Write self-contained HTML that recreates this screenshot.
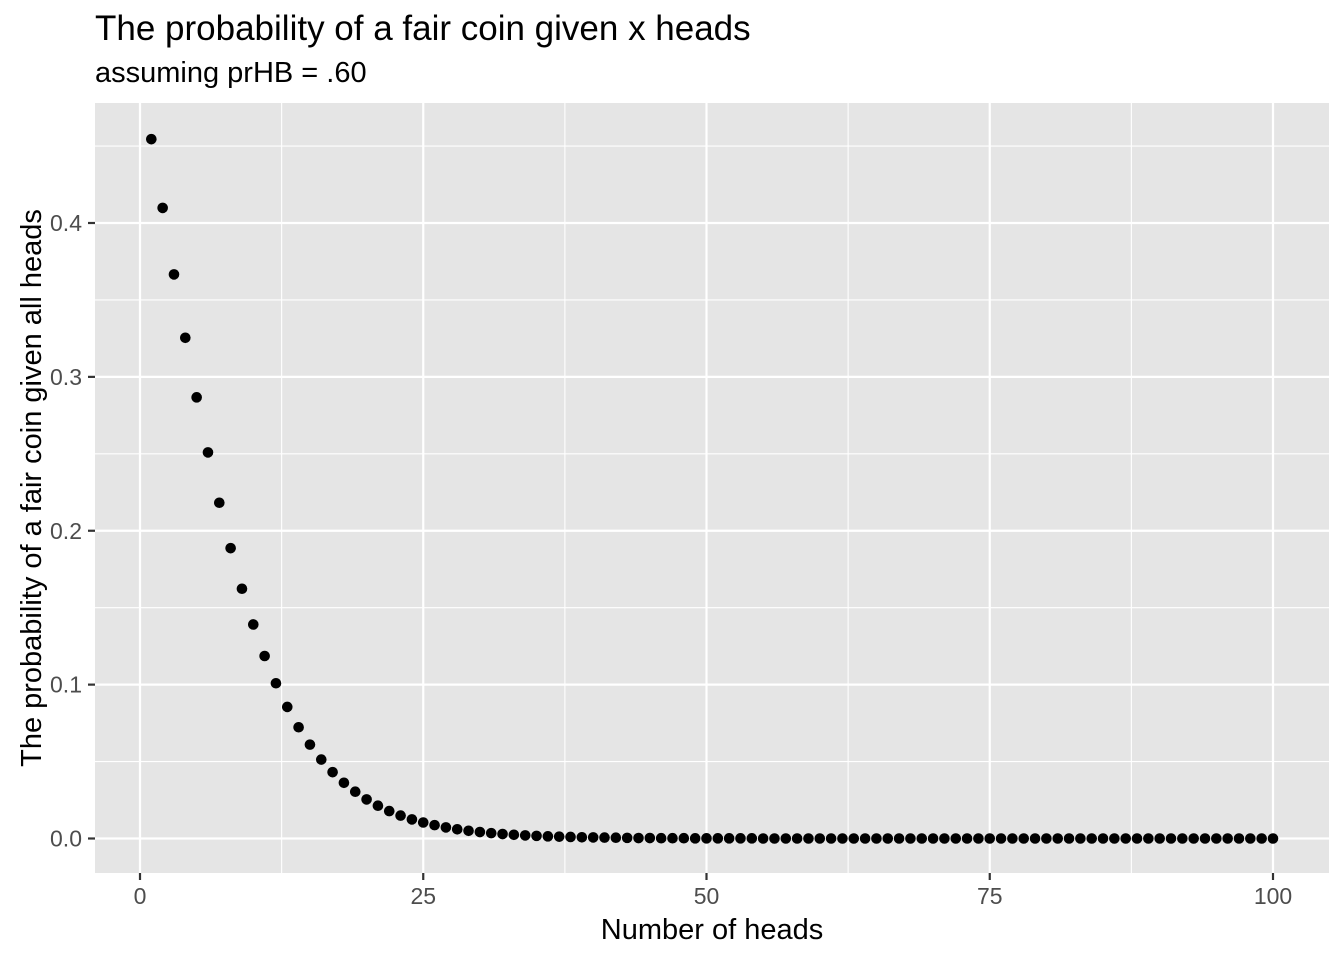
<!DOCTYPE html>
<html><head><meta charset="utf-8"><style>
body{margin:0;background:#fff;}
svg{display:block;font-family:"Liberation Sans",Arial,sans-serif;}
</style></head><body>
<svg id="chart" width="1344" height="960" xmlns="http://www.w3.org/2000/svg">
<text x="95" y="40" font-size="35" fill="#000">The probability of a fair coin given x heads</text>
<text x="95" y="82" font-size="29" fill="#000">assuming prHB = .60</text>
<rect x="95" y="103" width="1234" height="770" fill="#e5e5e5"/>
<g id="grid"></g>
<g id="points"></g>
<g id="axes"></g>
<text x="712" y="939" font-size="29" text-anchor="middle" fill="#000">Number of heads</text>
<text transform="translate(41,488) rotate(-90)" font-size="29" text-anchor="middle" fill="#000">The probability of a fair coin given all heads</text>
</svg>
<script>
const heads = Array.from({length:100},(_,i)=>i+1);
const probFair = [0.4545,0.4098,0.3666,0.3254,0.2867,0.2509,0.2182,0.1887,0.1623,0.1391,
0.1186,0.1009,0.0855,0.0723,0.0610,0.0513,0.0431,0.0362,0.0304,0.0254,
0.0213,0.0178,0.0149,0.0124,0.0104,0.0087,0.0072,0.0060,0.0050,0.0042,
0.0035,0.0029,0.0024,0.0020,0.0017,0.0014,0.0012,0.0010,0.0008,0.0007,
0.0006,0.0005,0.0004,0.0003,0.0003,0.0002,0.0002,0.0002,0.0001,0.0001,
0.0001,0.0001,0.0001,0.0001,0,0,0,0,0,0,
0,0,0,0,0,0,0,0,0,0,
0,0,0,0,0,0,0,0,0,0,
0,0,0,0,0,0,0,0,0,0,
0,0,0,0,0,0,0,0,0,0];
const xTicks = [0,25,50,75,100];
const xTickLabels = ["0","25","50","75","100"];
const yTicks = [0,0.1,0.2,0.3,0.4];
const yTickLabels = ["0.0","0.1","0.2","0.3","0.4"];
const NS="http://www.w3.org/2000/svg";
const xs = v => 140 + v*(1273-140)/100;
const ys = v => 838.5 - v*(838.5-223)/0.4;
function mk(tag, attrs, parent){const e=document.createElementNS(NS,tag);for(const k in attrs)e.setAttribute(k,attrs[k]);parent.appendChild(e);return e;}
const grid=document.getElementById('grid'), pts=document.getElementById('points'), axes=document.getElementById('axes');
for(let i=0;i<xTicks.length-1;i++){const m=(xTicks[i]+xTicks[i+1])/2;
 const l=mk('line',{x1:xs(m),x2:xs(m),y1:103,y2:873,stroke:'#fff','stroke-width':1.1},grid);
 
 }
for(let i=0;i<yTicks.length;i++){const m=yTicks[i]+0.05;
 const l=mk('line',{x1:95,x2:1329,y1:ys(m),y2:ys(m),stroke:'#fff','stroke-width':1.1},grid);
 
 }
xTicks.forEach((t,i)=>{
 const l=mk('line',{x1:xs(t),x2:xs(t),y1:103,y2:873,stroke:'#fff','stroke-width':2.2},grid);
 
 
 const tk=mk('line',{x1:xs(t),x2:xs(t),y1:873,y2:880,stroke:'#333','stroke-width':2.2},axes);
 
 
 const tx=mk('text',{x:xs(t),y:904,'font-size':23,'text-anchor':'middle',fill:'#4d4d4d'},axes);
 tx.textContent=xTickLabels[i];
 
 
});
yTicks.forEach((t,i)=>{
 const l=mk('line',{x1:95,x2:1329,y1:ys(t),y2:ys(t),stroke:'#fff','stroke-width':2.2},grid);
 
 
 const tk=mk('line',{x1:88,x2:95,y1:ys(t),y2:ys(t),stroke:'#333','stroke-width':2.2},axes);
 
 
 const tx=mk('text',{x:82,y:ys(t)+8,'font-size':23,'text-anchor':'end',fill:'#4d4d4d'},axes);
 tx.textContent=yTickLabels[i];
 
 
});
heads.forEach((h,i)=>{
 const c=mk('circle',{cx:xs(h),cy:ys(probFair[i]),r:5.3,fill:'#000'},pts);
 
 
});
</script>
</body></html>
